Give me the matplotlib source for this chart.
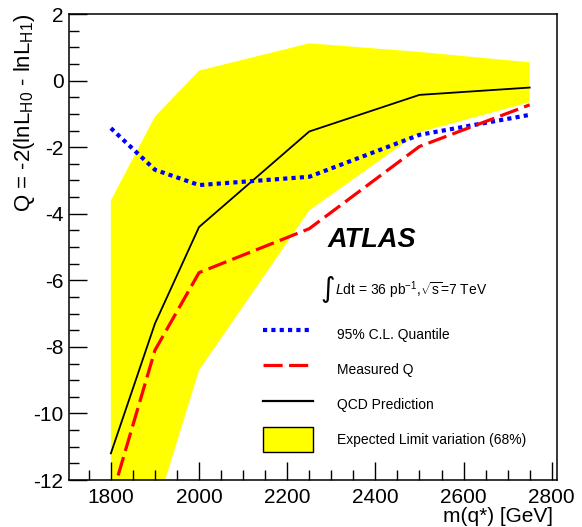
import matplotlib
matplotlib.use("Agg")
import matplotlib.pyplot as plt
from matplotlib.lines import Line2D
from matplotlib.patches import Patch
from matplotlib.ticker import MultipleLocator

plt.rcParams['font.family'] = ['Liberation Sans', 'DejaVu Sans']
plt.rcParams['mathtext.fontset'] = 'custom'
plt.rcParams['mathtext.rm'] = 'Liberation Sans'
plt.rcParams['mathtext.it'] = 'Liberation Sans:italic'
plt.rcParams['axes.unicode_minus'] = False

# q* mass points [GeV]
mass = [1800, 1900, 2000, 2250, 2500, 2750]

# expected limit variation band (68%)
band_low = [-16.5, -13.0, -8.7, -3.9, -1.55, -0.65]
band_high = [-3.6, -1.08, 0.30, 1.12, 0.86, 0.55]

qcd_pred = [-11.2, -7.3, -4.4, -1.53, -0.43, -0.21]
measured_q = [-12.6, -8.1, -5.77, -4.45, -1.98, -0.73]
quantile95 = [-1.43, -2.68, -3.14, -2.89, -1.63, -1.03]

W, H = 582, 527
fig = plt.figure(figsize=(W / 100, H / 100), dpi=100)
ax = fig.add_axes([69 / W, 1 - 480 / H, 488 / W, 466 / H])

dots = (0, (1, 1))
dashes = (0, (6, 2))

ax.fill_between(mass, band_low, band_high, color='#ffff00', lw=0, zorder=1)
ax.plot(mass, qcd_pred, color='black', lw=1.3, zorder=2)
ax.plot(mass, quantile95, color='#0000ff', lw=3, ls=dots,
        dash_capstyle='butt', zorder=3)
ax.plot(mass, measured_q, color='#ff0000', lw=2.3, ls=dashes,
        dash_capstyle='butt', zorder=4)

ax.set_xlim(1705, 2812)
ax.set_ylim(-12, 2)
ax.xaxis.set_major_locator(MultipleLocator(200))
ax.xaxis.set_minor_locator(MultipleLocator(50))
ax.yaxis.set_major_locator(MultipleLocator(2))
ax.yaxis.set_minor_locator(MultipleLocator(0.5))
ax.tick_params(which='both', direction='in', top=False, right=False,
               labelsize=15, width=1)
ax.tick_params(which='major', length=13)
ax.tick_params(which='minor', length=7)
ax.tick_params(axis='x', pad=6)
ax.tick_params(axis='y', pad=4)
for s in ax.spines.values():
    s.set_linewidth(1.1)
    s.set_zorder(5)

fig.text(25 / W, 1 - 14 / H, r'Q = -2(lnL$_{\mathrm{H0}}$ - lnL$_{\mathrm{H1}}$)',
         rotation=90, ha='center', va='top', fontsize=16)
fig.text(553 / W, 1 - 517 / H, 'm(q*) [GeV]', ha='right', va='center', fontsize=15)

ax.text(0.529, 0.515, 'ATLAS', transform=ax.transAxes, fontsize=19.5,
        fontweight='bold', fontstyle='italic', ha='left', va='center')
ax.text(0.516, 0.409, '\u222b', transform=ax.transAxes, fontsize=20,
        family='DejaVu Sans', ha='left', va='center')
ax.text(0.546, 0.408, r'$L$dt = 36 pb$^{-1}$,$\sqrt{\mathrm{s}}$=7 TeV',
        transform=ax.transAxes, fontsize=10, ha='left', va='center')

handles = [
    Line2D([], [], color='#0000ff', lw=3, ls=dots, dash_capstyle='butt'),
    Line2D([], [], color='#ff0000', lw=2.3, ls=dashes, dash_capstyle='butt'),
    Line2D([], [], color='black', lw=1.6),
    Patch(facecolor='#ffff00', edgecolor='black', lw=1),
]
labels = ['95% C.L. Quantile', 'Measured Q', 'QCD Prediction',
          'Expected Limit variation (68%)']
ax.legend(handles, labels, loc='upper left', bbox_to_anchor=(0.3975, 0.339),
          frameon=False, fontsize=10, borderpad=0, borderaxespad=0,
          handlelength=3.6, handleheight=2.4, handletextpad=1.7,
          labelspacing=0.72)

fig.savefig('out.png', dpi=100)
